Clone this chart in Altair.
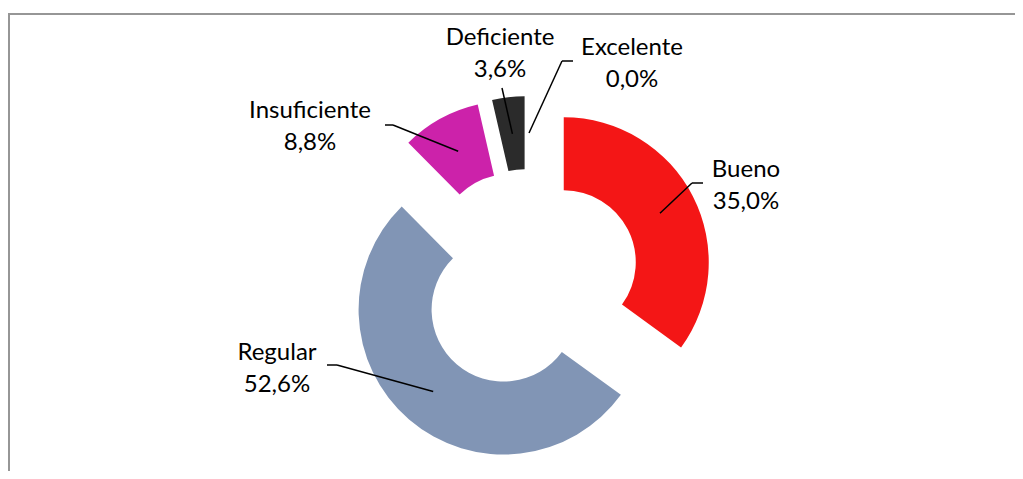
import math
import altair as alt
import pandas as pd

# ---- data ----
categories = ["Excelente", "Bueno", "Regular", "Insuficiente", "Deficiente"]
values = [0.0, 35.0, 52.6, 8.8, 3.6]
pct_labels = ["0,0%", "35,0%", "52,6%", "8,8%", "3,6%"]

# ---- styles / layout ----
colors = ["#4F81BD", "#F41616", "#8195B5", "#CC22AA", "#2B2B2B"]
W, H = 1007, 463
CX, CY = 521, 272          # donut centre (px)
R_OUT, R_IN = 145, 72      # radii
EXPLODE = 39               # explosion distance
LEADER_R = 108             # leader start radius from exploded centre
FONT = "Lato"
FONT_SIZE = 24
LINE_GAP = 32

# label placement (label centre x, first-line baseline y, leader elbow, leader tail)
LAYOUT = {
    "Excelente":    dict(lx=624, ly=47,  elbow=(554, 53),  tail=(565, 53)),
    "Bueno":        dict(lx=738, ly=169, elbow=(684, 175), tail=(695, 175)),
    "Regular":      dict(lx=269, ly=352, elbow=(329, 357), tail=(319, 357)),
    "Insuficiente": dict(lx=302, ly=110, elbow=(385, 117), tail=(377, 117)),
    "Deficiente":   dict(lx=492, ly=37,  elbow=(494, 80),  tail=None),
}

total = sum(values)
arc_df = pd.DataFrame({"cat": categories, "value": values, "idx": list(range(len(values)))})

arcs = (
    alt.Chart(arc_df)
    .transform_joinaggregate(total="sum(value)")
    .transform_window(cum="sum(value)", sort=[alt.SortField("idx")], frame=[None, 0])
    .transform_calculate(
        t1="datum.cum / datum.total * 2 * PI",
        t0="(datum.cum - datum.value) / datum.total * 2 * PI",
    )
    .transform_calculate(mid="(datum.t0 + datum.t1) / 2")
    .transform_calculate(
        cx=f"{CX} + {EXPLODE} * sin(datum.mid)",
        cy=f"{CY} - {EXPLODE} * cos(datum.mid)",
    )
    .mark_arc(radius=R_OUT, radius2=R_IN)
    .encode(
        theta=alt.Theta("t0:Q", scale=None),
        theta2="t1:Q",
        x=alt.X("cx:Q", scale=None, axis=None),
        y=alt.Y("cy:Q", scale=None, axis=None),
        color=alt.Color("cat:N", scale=alt.Scale(domain=categories, range=colors), legend=None),
    )
)

# leader lines (start point derived from slice mid-angles)
segs = []
cum = 0.0
for cat, v in zip(categories, values):
    mid = (cum + v / 2) / total * 2 * math.pi
    cum += v
    sx = CX + (EXPLODE + LEADER_R) * math.sin(mid)
    sy = CY - (EXPLODE + LEADER_R) * math.cos(mid)
    lay = LAYOUT[cat]
    ex, ey = lay["elbow"]
    segs.append(dict(x=sx, y=sy, x2=ex, y2=ey))
    if lay["tail"] is not None:
        tx, ty = lay["tail"]
        segs.append(dict(x=ex, y=ey, x2=tx, y2=ty))
seg_df = pd.DataFrame(segs)

leaders = (
    alt.Chart(seg_df)
    .mark_rule(color="black", strokeWidth=1.5)
    .encode(
        x=alt.X("x:Q", scale=None, axis=None),
        y=alt.Y("y:Q", scale=None, axis=None),
        x2="x2:Q",
        y2="y2:Q",
    )
)

lab_df = pd.DataFrame({
    "cat": categories,
    "pct": pct_labels,
    "lx": [LAYOUT[c]["lx"] for c in categories],
    "ly": [LAYOUT[c]["ly"] for c in categories],
})
lab_df["ly2"] = lab_df["ly"] + LINE_GAP

name_text = (
    alt.Chart(lab_df)
    .mark_text(font=FONT, fontSize=FONT_SIZE, color="black", align="center", baseline="alphabetic")
    .encode(x=alt.X("lx:Q", scale=None, axis=None), y=alt.Y("ly:Q", scale=None, axis=None), text="cat:N")
)
pct_text = (
    alt.Chart(lab_df)
    .mark_text(font=FONT, fontSize=FONT_SIZE, color="black", align="center", baseline="alphabetic")
    .encode(x=alt.X("lx:Q", scale=None, axis=None), y=alt.Y("ly2:Q", scale=None, axis=None), text="pct:N")
)

frame_top = alt.Chart(arc_df).mark_rule(color="#969696", strokeWidth=2).encode(
    x=alt.value(0), x2=alt.value(W), y=alt.value(6)
)
frame_left = alt.Chart(arc_df).mark_rule(color="#969696", strokeWidth=2).encode(
    x=alt.value(1), y=alt.value(5), y2=alt.value(H)
)

chart = (
    alt.layer(frame_top, frame_left, arcs, leaders, name_text, pct_text)
    .properties(width=W, height=H, autosize=alt.AutoSizeParams(type="none"), padding=0)
    .configure_view(stroke=None)
)

chart.save("out.html", embed_options={"renderer": "svg", "actions": False})
